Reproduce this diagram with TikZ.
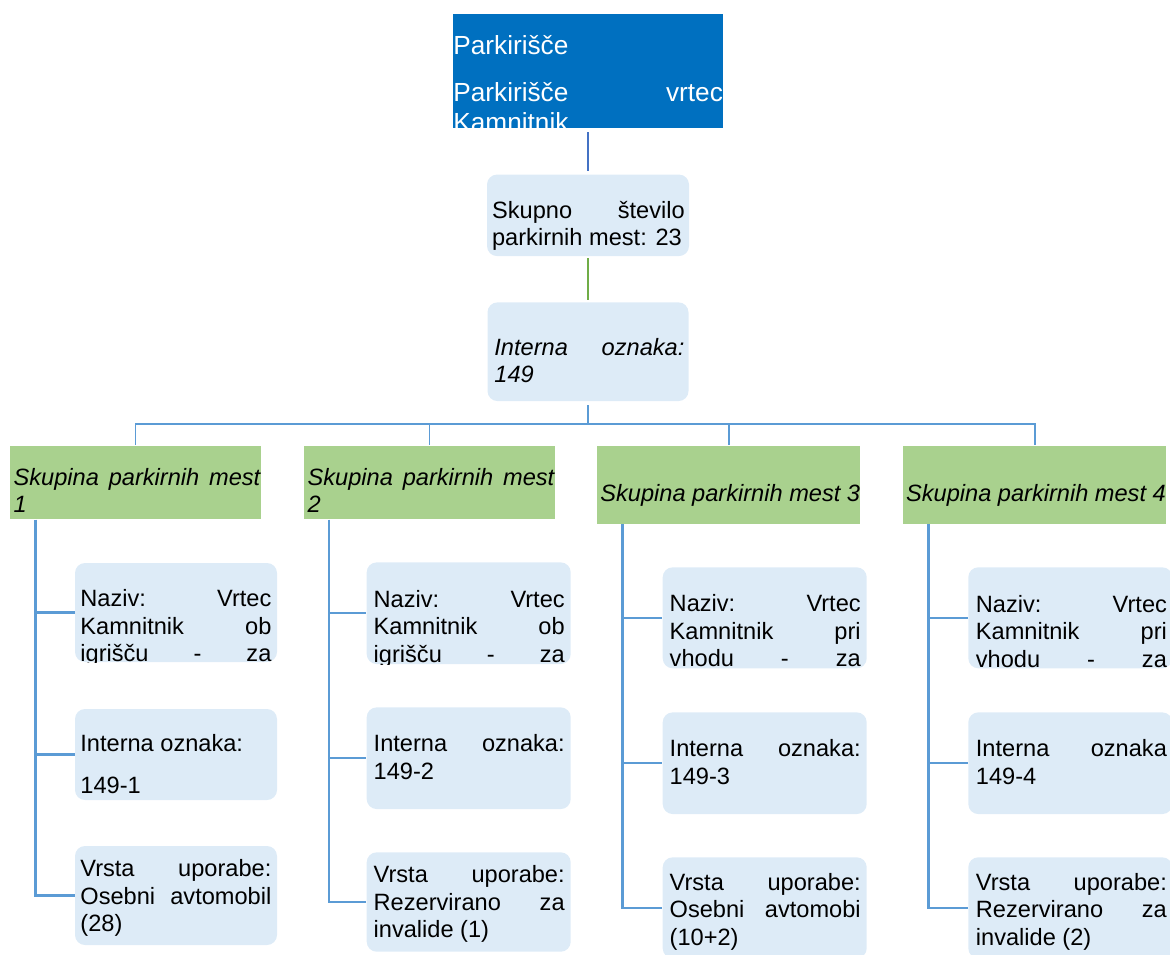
\documentclass[tikz,border=0pt]{standalone}
\usepackage{fontspec}
\setmainfont{Liberation Sans}
\usepackage{tikz}
\definecolor{headblue}{HTML}{0070C0}
\definecolor{cellblue}{HTML}{DDEBF7}
\definecolor{groupgreen}{HTML}{A9D18E}
\definecolor{linkblue}{HTML}{4472C4}
\definecolor{linkgreen}{HTML}{70AD47}
\definecolor{branchblue}{HTML}{5B9BD5}
\hyphenpenalty=10000
\exhyphenpenalty=10000
\tolerance=10000
\hbadness=10000

\begin{document}
\begin{tikzpicture}[x=0.5pt,y=-0.5pt,
    every node/.style={inner sep=0pt, font=\fontsize{11.8pt}{13.75pt}\selectfont},
    head/.style={fill=headblue, minimum width=135pt, minimum height=57.15pt},
    cell/.style={fill=cellblue, rounded corners=5pt, minimum width=102pt, minimum height=50.5pt},
    group/.style={fill=groupgreen},
    txt/.style={anchor=base west, text width=95.5pt, align=justify},
    branch/.style={draw=branchblue, line width=1.2pt}]
  \useasboundingbox (0,0) rectangle (1170,954);

  % top of the tree
  \node[head] (lot) at (588,71.2) {};
  \begin{scope}
    \clip (lot.north west) rectangle (lot.south east);
    \node[txt, text width=134.75pt, text=white, font=\fontsize{13.1pt}{14.8pt}\selectfont] (lottext) at (453,54.8) {Parkirišče\par\vspace{8.6pt}Parkirišče vrtec\linebreak Kamnitnik};
  \end{scope}
  \node[cell, minimum width=101pt, minimum height=40.75pt] (sum) at (588,215.3) {};
  \node[txt, text width=96.3pt] (sumtext) at (491.7,218.3) {Skupno število\linebreak parkirnih mest: 23};
  \node[cell, minimum width=100.5pt, minimum height=49.35pt] (code) at (588,351.7) {};
  \node[txt, text width=95pt] (codetext) at (494,355) {\itshape Interna oznaka:\linebreak 149};

  \draw[draw=linkblue, line width=1pt, shorten <=1.7pt, shorten >=1.4pt] (lot.south) -- (sum.north);
  \draw[draw=linkgreen, line width=1pt, shorten <=1pt, shorten >=1.1pt] (sum.south) -- (code.north);

  % groups
  \node[group, minimum width=125.35pt, minimum height=36.8pt] (g1) at (135.35,482.5) {};
  \node[txt, text width=123.3pt] (g1text) at (13.3,485) {\itshape Skupina parkirnih mest\linebreak 1};
  \node[group, minimum width=125.35pt, minimum height=36.8pt] (g2) at (429.35,482.5) {};
  \node[txt, text width=123.3pt] (g2text) at (307.3,485) {\itshape Skupina parkirnih mest\linebreak 2};
  \node[group, minimum width=131.5pt, minimum height=39pt] (g3) at (728.5,484.7) {};
  \node[txt, text width=131pt] (g3text) at (600,501.7) {\itshape Skupina parkirnih mest 3};
  \node[group, minimum width=131.5pt, minimum height=39pt] (g4) at (1034.5,484.7) {};
  \node[txt, text width=131pt] (g4text) at (905.7,501) {\itshape Skupina parkirnih mest 4};

  \coordinate (fork) at (588,424);
  \draw[branch, line width=1pt, shorten <=2pt] (code.south) -- (fork);
  \draw[draw=branchblue, line width=0.6pt] (fork) -| (g1.north) (fork) -| (g2.north);
  \draw[branch, line width=1pt] (fork) -| (g3.north) (fork) -| (g4.north);

  % column 1
  \node[cell, minimum width=101pt, minimum height=49.5pt] (n1) at (176,612.5) {};
  \begin{scope}
    \clip[rounded corners=5pt] (n1.north west) rectangle (n1.south east);
    \node[txt] (n1text) at (80,606.5) {\parfillskip=0pt Naziv: Vrtec\linebreak Kamnitnik ob\linebreak igrišču - za\par};
  \end{scope}
  \node[cell, minimum width=101pt, minimum height=45.5pt] (i1) at (176,754.5) {};
  \node[txt] (i1text) at (80,751.5) {Interna oznaka:\par\vspace{7.2pt}149-1};
  \node[cell, minimum width=101pt, minimum height=49.5pt] (v1) at (176,895.5) {};
  \node[txt] (v1text) at (80,876.5) {Vrsta uporabe:\linebreak Osebni avtomobil\linebreak (28)};

  % column 2
  \node[cell, minimum height=50.85pt] (n2) at (468.7,613.2) {};
  \begin{scope}
    \clip[rounded corners=5pt] (n2.north west) rectangle (n2.south east);
    \node[txt] (n2text) at (373.3,607.3) {\parfillskip=0pt Naziv: Vrtec\linebreak Kamnitnik ob\linebreak igrišču - za\par};
  \end{scope}
  \node[cell, minimum height=50.85pt] (i2) at (468.7,758.2) {};
  \node[txt] (i2text) at (373.3,751.7) {Interna oznaka:\linebreak 149-2};
  \node[cell, minimum height=49.7pt] (v2) at (468.7,902) {};
  \node[txt] (v2text) at (373.3,882.7) {Vrsta uporabe:\linebreak Rezervirano za\linebreak invalide (1)};

  % column 3
  \node[cell] (n3) at (764.7,617.8) {};
  \begin{scope}
    \clip[rounded corners=5pt] (n3.north west) rectangle (n3.south east);
    \node[txt] (n3text) at (669.3,611.7) {\parfillskip=0pt Naziv: Vrtec\linebreak Kamnitnik pri\linebreak vhodu - za\par};
  \end{scope}
  \node[cell, minimum height=50.85pt] (i3) at (764.7,763.2) {};
  \node[txt] (i3text) at (669.3,756.7) {Interna oznaka:\linebreak 149-3};
  \node[cell] (v3) at (764.7,907.8) {};
  \node[txt] (v3text) at (669.3,890) {Vrsta uporabe:\linebreak Osebni avtomobi\linebreak (10+2)};

  % column 4
  \node[cell] (n4) at (1070.3,617.8) {};
  \begin{scope}
    \clip[rounded corners=5pt] (n4.north west) rectangle (n4.south east);
    \node[txt] (n4text) at (975.5,612.3) {\parfillskip=0pt Naziv: Vrtec\linebreak Kamnitnik pri\linebreak vhodu - za\par};
  \end{scope}
  \node[cell, minimum height=50.85pt] (i4) at (1070.3,763.2) {};
  \node[txt] (i4text) at (975.5,756.7) {Interna oznaka\linebreak 149-4};
  \node[cell] (v4) at (1070.3,907.8) {};
  \node[txt] (v4text) at (975.5,890) {Vrsta uporabe:\linebreak Rezervirano za\linebreak invalide (2)};

  % brackets under the groups
  \draw[branch] ([xshift=13pt]g1.south west) |- (n1.west) ([xshift=13pt]g1.south west) |- (i1.west) ([xshift=13pt]g1.south west) |- (v1.west);
  \draw[branch] ([xshift=12.7pt]g2.south west) |- (n2.west) ([xshift=12.7pt]g2.south west) |- (i2.west) ([xshift=12.7pt]g2.south west) |- (v2.west);
  \draw[branch] ([xshift=13pt]g3.south west) |- (n3.west) ([xshift=13pt]g3.south west) |- (i3.west) ([xshift=13pt]g3.south west) |- (v3.west);
  \draw[branch] ([xshift=13pt]g4.south west) |- (n4.west) ([xshift=13pt]g4.south west) |- (i4.west) ([xshift=13pt]g4.south west) |- (v4.west);
\end{tikzpicture}
\end{document}
